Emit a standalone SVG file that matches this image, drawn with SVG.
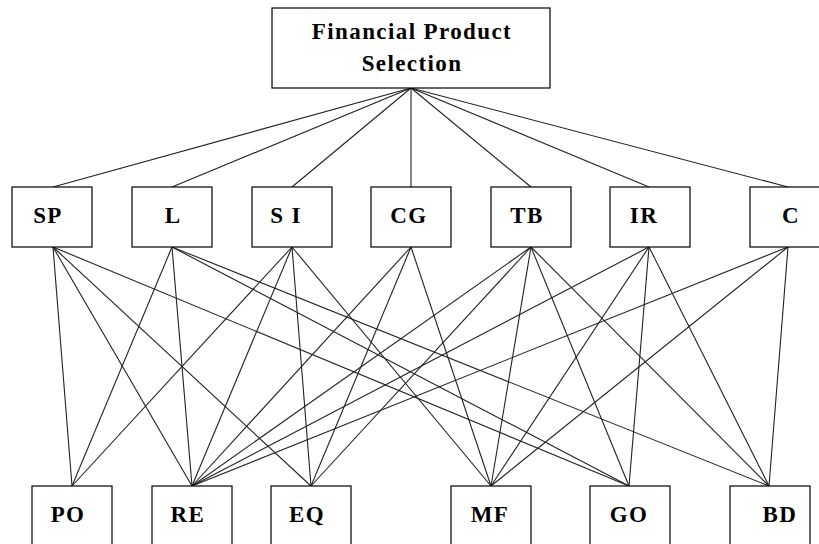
<svg xmlns="http://www.w3.org/2000/svg" width="819" height="544" viewBox="0 0 819 544">
<style>
.box{fill:#fff;stroke:#000;stroke-width:1.2}
.lbl{font-family:"Liberation Serif","Times New Roman",serif;font-weight:bold;font-size:23px;letter-spacing:1.4px;text-anchor:middle;fill:#000}
#connectors line{stroke:#222;stroke-width:1.1}
</style>
<rect width="819" height="544" fill="#fff"/>
<g id="connectors">
<line x1="411" y1="88" x2="53" y2="187"/>
<line x1="411" y1="88" x2="172" y2="187"/>
<line x1="411" y1="88" x2="292" y2="187"/>
<line x1="411" y1="88" x2="411" y2="187"/>
<line x1="411" y1="88" x2="531" y2="187"/>
<line x1="411" y1="88" x2="649" y2="187"/>
<line x1="411" y1="88" x2="788" y2="187"/>
<line x1="53" y1="247" x2="72" y2="486"/>
<line x1="53" y1="247" x2="192" y2="486"/>
<line x1="53" y1="247" x2="311" y2="486"/>
<line x1="53" y1="247" x2="629" y2="486"/>
<line x1="172" y1="247" x2="72" y2="486"/>
<line x1="172" y1="247" x2="192" y2="486"/>
<line x1="172" y1="247" x2="629" y2="486"/>
<line x1="172" y1="247" x2="769" y2="486"/>
<line x1="292" y1="247" x2="72" y2="486"/>
<line x1="292" y1="247" x2="192" y2="486"/>
<line x1="292" y1="247" x2="311" y2="486"/>
<line x1="292" y1="247" x2="491" y2="486"/>
<line x1="411" y1="247" x2="192" y2="486"/>
<line x1="411" y1="247" x2="311" y2="486"/>
<line x1="411" y1="247" x2="491" y2="486"/>
<line x1="531" y1="247" x2="192" y2="486"/>
<line x1="531" y1="247" x2="311" y2="486"/>
<line x1="531" y1="247" x2="491" y2="486"/>
<line x1="531" y1="247" x2="629" y2="486"/>
<line x1="531" y1="247" x2="769" y2="486"/>
<line x1="649" y1="247" x2="192" y2="486"/>
<line x1="649" y1="247" x2="491" y2="486"/>
<line x1="649" y1="247" x2="629" y2="486"/>
<line x1="649" y1="247" x2="769" y2="486"/>
<line x1="788" y1="247" x2="192" y2="486"/>
<line x1="788" y1="247" x2="491" y2="486"/>
<line x1="788" y1="247" x2="769" y2="486"/>
</g>
<g id="root"><rect class="box" x="272" y="8" width="278" height="80"/><text class="lbl" x="412" y="39">Financial Product</text><text class="lbl" x="412" y="71">Selection</text></g>
<g id="SP"><rect class="box" x="12" y="187" width="80" height="60"/><text class="lbl" x="48" y="223">SP</text></g>
<g id="L"><rect class="box" x="132" y="187" width="80" height="60"/><text class="lbl" x="173" y="223">L</text></g>
<g id="SI"><rect class="box" x="252" y="187" width="80" height="60"/><text class="lbl" x="286" y="223">S I</text></g>
<g id="CG"><rect class="box" x="371" y="187" width="80" height="60"/><text class="lbl" x="409" y="223">CG</text></g>
<g id="TB"><rect class="box" x="491" y="187" width="80" height="60"/><text class="lbl" x="527" y="223">TB</text></g>
<g id="IR"><rect class="box" x="610" y="187" width="80" height="60"/><text class="lbl" x="644" y="223">IR</text></g>
<g id="C"><rect class="box" x="750" y="187" width="80" height="60"/><text class="lbl" x="791" y="223">C</text></g>
<g id="PO"><rect class="box" x="32" y="486" width="80" height="62"/><text class="lbl" x="68" y="522">PO</text></g>
<g id="RE"><rect class="box" x="152" y="486" width="80" height="62"/><text class="lbl" x="188" y="522">RE</text></g>
<g id="EQ"><rect class="box" x="271" y="486" width="80" height="62"/><text class="lbl" x="307" y="522">EQ</text></g>
<g id="MF"><rect class="box" x="451" y="486" width="80" height="62"/><text class="lbl" x="490" y="522">MF</text></g>
<g id="GO"><rect class="box" x="590" y="486" width="80" height="62"/><text class="lbl" x="629" y="522">GO</text></g>
<g id="BD"><rect class="box" x="730" y="486" width="80" height="62"/><text class="lbl" x="780" y="522">BD</text></g>
</svg>
